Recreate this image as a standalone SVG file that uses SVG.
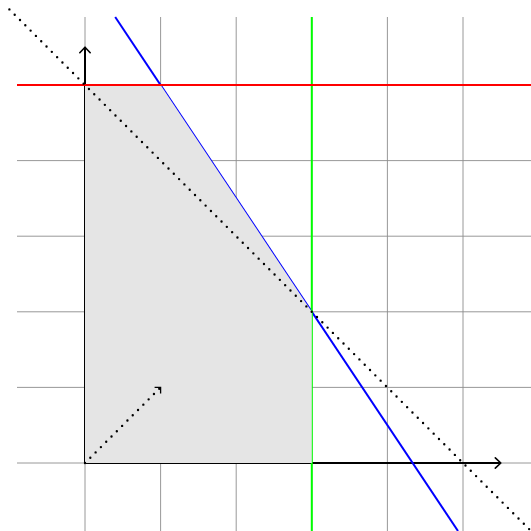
<svg xmlns="http://www.w3.org/2000/svg" width="531" height="531" viewBox="0 0 531 531">
<style>
.grid{stroke:#8c8c8c;stroke-width:0.9;fill:none}
.axis{stroke:#000;stroke-width:2;fill:none}
.dot{stroke:#000;stroke-width:2.4;stroke-linecap:round;stroke-dasharray:0 7.5;fill:none}
</style>
<defs>
<marker id="arr" markerUnits="userSpaceOnUse" markerWidth="14" markerHeight="14" refX="10" refY="7" orient="auto">
<path d="M4.5,1.8 L10,7 L4.5,12.2" fill="none" stroke="#000" stroke-width="1.6" stroke-linecap="round" stroke-linejoin="round"/>
</marker>
</defs>
<rect width="531" height="531" fill="#fff"/>
<g id="grid" class="grid">
<path d="M85,17V531M160.6,17V531M236.2,17V531M311.8,17V531M387.4,17V531M463,17V531"/>
<path d="M17,85H531M17,160.6H531M17,236.2H531M17,311.8H531M17,387.4H531M17,463H531"/>
</g>
<g id="connectors">
<path id="x-axis" class="axis" d="M85,463H500.8" marker-end="url(#arr)"/>
<path id="y-axis" class="axis" d="M85,463V47.2" marker-end="url(#arr)"/>
<path id="blue" d="M115.2,17L458,531" stroke="#0000ff" stroke-width="2" fill="none"/>
<path id="green" d="M311.8,17V531" stroke="#00ff00" stroke-width="2" fill="none"/>
</g>
<g id="feasible">
<polygon points="85,463 311.8,463 311.8,311.8 160.6,85 85,85" fill="#e5e5e5"/>
</g>
<g id="connectors2">
<path id="red" d="M17,85H531" stroke="#ff0000" stroke-width="2" fill="none"/>
<path id="objective" class="dot" d="M9.4,9.4L531,531"/>
<path id="gradient" class="dot" d="M85,463L160.6,387.4" stroke-width="2.2"/>
<path d="M154.6,387.4H160.6V393.4" fill="none" stroke="#000" stroke-width="1.3"/>
</g>
</svg>
